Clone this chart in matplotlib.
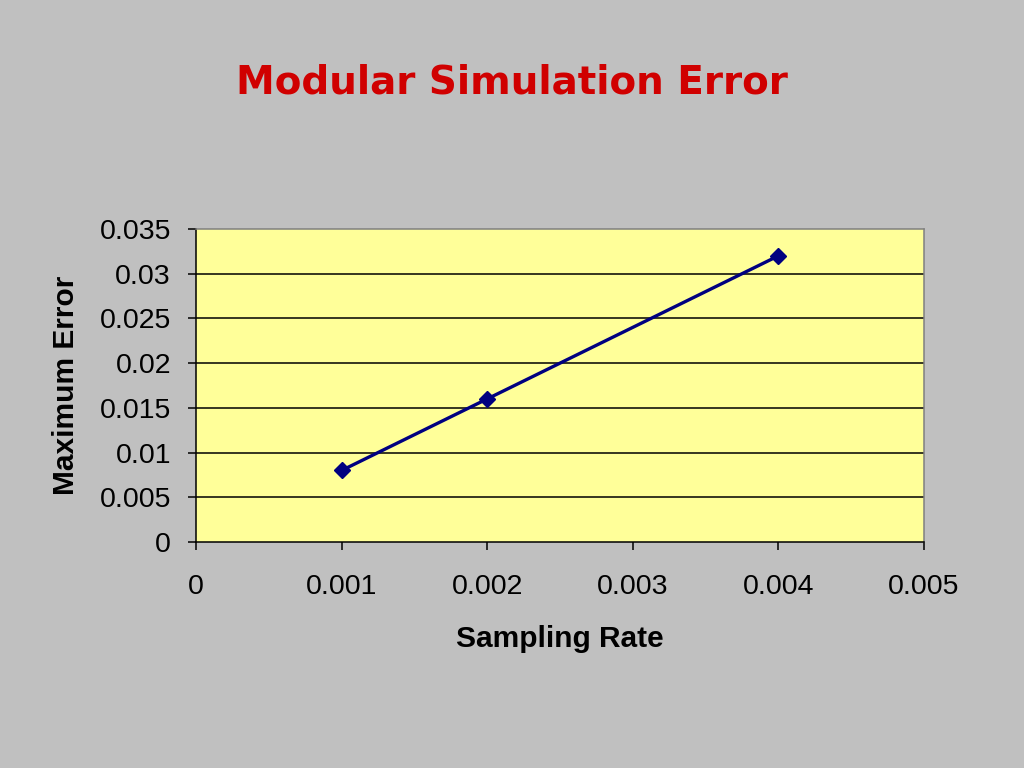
import matplotlib
matplotlib.use("Agg")
import matplotlib.pyplot as plt
from matplotlib.ticker import FixedLocator, FixedFormatter

# ====================== DATA ======================
sampling_rate = [0.001, 0.002, 0.004]
max_error = [0.008, 0.016, 0.032]

x_ticks = [0, 0.001, 0.002, 0.003, 0.004, 0.005]
x_tick_labels = ["0", "0.001", "0.002", "0.003", "0.004", "0.005"]
y_ticks = [0, 0.005, 0.01, 0.015, 0.02, 0.025, 0.03, 0.035]
y_tick_labels = ["0", "0.005", "0.01", "0.015", "0.02", "0.025", "0.03", "0.035"]
# ===================================================

plt.rcParams["font.family"] = ["Liberation Sans", "DejaVu Sans"]

fig = plt.figure(figsize=(10.24, 7.68), dpi=100, facecolor="#C0C0C0")
ax = fig.add_axes([196 / 1024, 1 - 542 / 768, (924 - 196) / 1024, (542 - 229) / 768])
ax.set_facecolor("#FFFF99")

# grid lines (black, horizontal only)
for y in y_ticks[1:-1]:
    ax.axhline(y, color="black", lw=1.1, zorder=1)

ax.plot(sampling_rate, max_error, color="#000080", lw=2.4, marker="D",
        markersize=8.5, markerfacecolor="#000080", markeredgecolor="#000080", zorder=3)

ax.set_xlim(0, 0.005)
ax.set_ylim(0, 0.035)
ax.xaxis.set_major_locator(FixedLocator(x_ticks))
ax.xaxis.set_major_formatter(FixedFormatter(x_tick_labels))
ax.yaxis.set_major_locator(FixedLocator(y_ticks))
ax.yaxis.set_major_formatter(FixedFormatter(y_tick_labels))

ax.tick_params(axis="both", direction="out", length=6, width=1.1, color="black",
               labelsize=20.5)
ax.tick_params(axis="y", pad=12)
ax.tick_params(axis="x", pad=17)

for side in ["left", "bottom"]:
    ax.spines[side].set_color("black")
    ax.spines[side].set_linewidth(1.1)
for side in ["top", "right"]:
    ax.spines[side].set_color("#808080")
    ax.spines[side].set_linewidth(1.1)

ax.set_xlabel("Sampling Rate", fontsize=21.5, fontweight="bold", labelpad=18)
ax.set_ylabel("Maximum Error", fontsize=21.5, fontweight="bold", labelpad=14)

fig.text(0.5, 1 - 82 / 768, "Modular Simulation Error", color="#D00000",
         fontsize=28, fontweight="bold", family=["DejaVu Sans"],
         ha="center", va="center")

fig.savefig("out.png", dpi=100, facecolor=fig.get_facecolor())
